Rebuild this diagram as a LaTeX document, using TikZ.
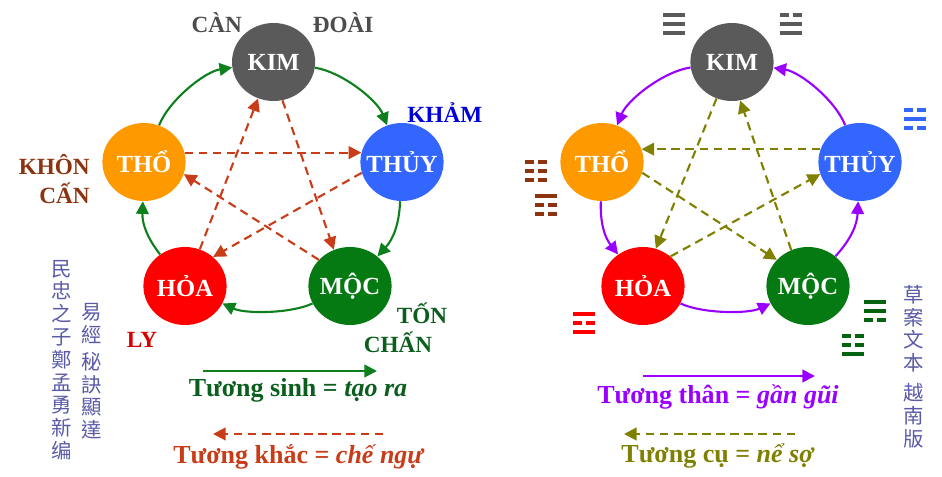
\documentclass[tikz,border=0pt]{standalone}
\usepackage{fontspec}
\setmainfont{Liberation Serif}
\newfontfamily\cjkfont{Noto Sans CJK TC}
\usepackage{xcolor}
\usetikzlibrary{positioning, shapes.geometric, arrows.meta}

\definecolor{kimgray}{HTML}{5A5A5A}
\definecolor{thoorange}{HTML}{FF9900}
\definecolor{thuyblue}{HTML}{3366FF}
\definecolor{mocgreen}{HTML}{067A12}
\definecolor{sinhgreen}{HTML}{0D7F1C}
\definecolor{khacred}{HTML}{C83C18}
\definecolor{thanpurple}{HTML}{9900FF}
\definecolor{cuolive}{HTML}{7F7F00}
\definecolor{khonbrown}{HTML}{8C3310}
\definecolor{tongreen}{HTML}{0B5E1E}
\definecolor{chinblue}{HTML}{5A5AA8}

\tikzset{
  element/.style={ellipse, inner sep=0pt, minimum width=2.08cm, minimum height=1.95cm, text=white, font=\bfseries\fontsize{17.5}{20}\selectfont},
  trilabel/.style={font=\bfseries\fontsize{16.5}{19}\selectfont},
  legendtext/.style={anchor=base, font=\bfseries\fontsize{18.5}{22}\selectfont},
  chinese/.style={align=center, inner sep=0pt, text=chinblue, font=\cjkfont\fontsize{14.5}{16.2}\selectfont},
  flow/.style={-{Triangle[length=9pt, width=9pt]}, line width=1.5pt},
  dashflow/.style={-{Triangle[length=9pt, width=9pt]}, line width=1.5pt, dash pattern=on 6pt off 4pt}
}

% zero width name, so that the element keeps its size
\newcommand{\elname}[1]{\makebox[0pt]{#1}}

% one trigram: centre x, centre y, colour, then bars from top to bottom (1 solid, 0 broken)
\newcommand{\trigrambar}[4]{%
  \ifnum#4=1
    \fill[#3] (#1-0.275,#2-0.06) rectangle (#1+0.275,#2+0.06);
  \else
    \fill[#3] (#1-0.275,#2-0.06) rectangle (#1-0.05,#2+0.06);
    \fill[#3] (#1+0.05,#2-0.06) rectangle (#1+0.275,#2+0.06);
  \fi}
\newcommand{\trigram}[6]{%
  \trigrambar{#1}{#2+0.225}{#3}{#4}
  \trigrambar{#1}{#2}{#3}{#5}
  \trigrambar{#1}{#2-0.225}{#3}{#6}}

\begin{document}
\begin{tikzpicture}
\useasboundingbox (0,0) rectangle (23.55,11.925);

% Elements on the left
\node[element, fill=kimgray] (kim) at (6.84,10.375) {\elname{KIM}};
\node[element, fill=thoorange] (tho) at (3.6,7.875) {\elname{THỔ}};
\node[element, fill=thuyblue] (thuy) at (10.05,7.875) {\elname{THỦY}};
\node[element, fill=red] (hoa) at (4.625,4.775) {\elname{HỎA}};
\node[element, fill=mocgreen] (moc) at (8.75,4.775) {\elname{MỘC}};

% Elements on the right
\node[element, fill=kimgray] (kimr) at (18.3,10.375) {\elname{KIM}};
\node[element, fill=thoorange] (thor) at (15.05,7.875) {\elname{THỔ}};
\node[element, fill=thuyblue] (thuyr) at (21.5,7.875) {\elname{THỦY}};
\node[element, fill=red] (hoar) at (16.075,4.775) {\elname{HỎA}};
\node[element, fill=mocgreen] (mocr) at (20.2,4.775) {\elname{MỘC}};

% Tuong sinh arrows
\draw[flow, sinhgreen] (kim) to[bend left=30, looseness=0.75] (thuy);
\draw[flow, sinhgreen] (thuy) to[bend left=20] (moc);
\draw[flow, sinhgreen] (moc) to[bend left=25, looseness=0.7] (hoa);
\draw[flow, sinhgreen] (hoa) to[bend left=20] (tho);
\draw[flow, sinhgreen] (tho) to[bend left=30, looseness=0.75] (kim);

% Tuong khac arrows
\draw[dashflow, khacred] (tho.13) -- (thuy.167);
\draw[dashflow, khacred] (thuy.195) -- (hoa.46);
\draw[dashflow, khacred] (hoa.68) -- (kim.247);
\draw[dashflow, khacred] (kim.283) -- (moc.114);
\draw[dashflow, khacred] (moc.140) -- (tho.343);

% Tuong than arrows
\draw[flow, thanpurple] (kimr) to[bend right=30, looseness=0.75] (thor);
\draw[flow, thanpurple] (thor) to[bend right=20] (hoar);
\draw[flow, thanpurple] (hoar) to[bend right=25, looseness=0.7] (mocr);
\draw[flow, thanpurple] (mocr) to[bend right=20] (thuyr);
\draw[flow, thanpurple] (thuyr) to[bend right=30, looseness=0.75] (kimr);

% Tuong cu arrows
\draw[dashflow, cuolive] (thuyr.162) -- (thor.18);
\draw[dashflow, cuolive] (thor.345) -- (mocr.140);
\draw[dashflow, cuolive] (mocr.115) -- (kimr.282);
\draw[dashflow, cuolive] (kimr.247) -- (hoar.71);
\draw[dashflow, cuolive] (hoar.47) -- (thuyr.197);

% Trigram names
\node[trilabel, text=kimgray!85!black] (can) at (5.42,11.35) {CÀN};
\node[trilabel, text=kimgray!85!black] (doai) at (8.58,11.35) {ĐOÀI};
\node[trilabel, text=blue!85!black] (kham) at (11.12,9.1) {KHẢM};
\node[trilabel, text=khonbrown, anchor=east, inner xsep=0pt] (khon) at (2.25,7.8) {KHÔN};
\node[trilabel, text=khonbrown, anchor=east, inner xsep=0pt] (canb) at (2.25,7.1) {CẤN};
\node[trilabel, text=red!85!black] (ly) at (3.55,3.425) {LY};
\node[trilabel, text=tongreen] (ton) at (10.55,4.1) {TỐN};
\node[trilabel, text=tongreen] (chan) at (9.95,3.375) {CHẤN};

% Trigram signs
\trigram{16.86}{11.325}{kimgray}{1}{1}{1}
\trigram{19.78}{11.325}{kimgray}{0}{1}{1}
\trigram{22.88}{8.95}{thuyblue}{0}{1}{0}
\trigram{13.4}{7.65}{khonbrown}{0}{0}{0}
\trigram{13.65}{6.8}{khonbrown}{1}{0}{0}
\trigram{14.6}{3.85}{red}{1}{0}{1}
\trigram{21.88}{4.15}{mocgreen!80!black}{1}{1}{0}
\trigram{21.33}{3.3}{mocgreen!80!black}{0}{0}{1}

% Legend on the left
\coordinate (sinhstart) at (5.075,2.65);
\coordinate (sinhend) at (9.425,2.65);
\draw[flow, sinhgreen] (sinhstart) -- (sinhend);
\node[legendtext, text=tongreen] (sinh) at (7.45,2.02) {Tương sinh = \textit{tạo ra}};
\coordinate (khacstart) at (9.575,1.075);
\coordinate (khacend) at (5.325,1.075);
\draw[dashflow, khacred] (khacstart) -- (khacend);
\node[legendtext, text=khacred] (khac) at (7.475,0.325) {Tương khắc = \textit{chế ngự}};

% Legend on the right
\coordinate (thanstart) at (16.075,2.525);
\coordinate (thanend) at (20.375,2.525);
\draw[flow, thanpurple] (thanstart) -- (thanend);
\node[legendtext, text=thanpurple] (than) at (17.95,1.83) {Tương thân = \textit{gần gũi}};
\coordinate (custart) at (19.875,1.075);
\coordinate (cuend) at (15.6,1.075);
\draw[dashflow, cuolive] (custart) -- (cuend);
\node[legendtext, text=cuolive] (cu) at (17.95,0.35) {Tương cụ = \textit{nể sợ}};

% Vertical notes
\node[chinese, anchor=north] (noteone) at (1.55,5.43) {民\\忠\\之\\子\\鄭\\孟\\勇\\新\\编};
\node[chinese, anchor=north] (notetwo) at (2.3,4.35) {易\\經\\[3pt]秘\\訣\\顯\\達};
\node[chinese, anchor=north] (notethree) at (22.83,4.8) {草\\案\\文\\本\\[5pt]越\\南\\版};

\end{tikzpicture}
\end{document}
